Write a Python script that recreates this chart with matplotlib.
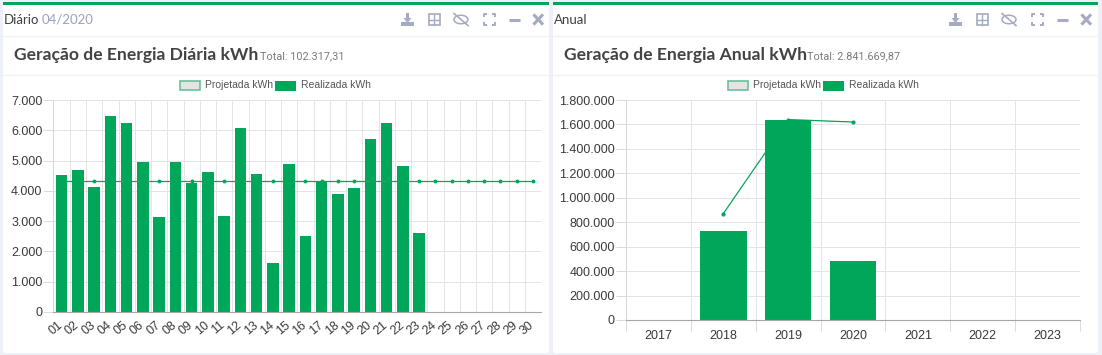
import matplotlib
matplotlib.use('Agg')
import matplotlib.pyplot as plt
from matplotlib.patches import Rectangle, FancyBboxPatch, Ellipse
from matplotlib.ticker import FuncFormatter

W, H = 1102, 355

# daily chart
dias = ['01','02','03','04','05','06','07','08','09','10','11','12','13','14','15',
        '16','17','18','19','20','21','22','23','24','25','26','27','28','29','30']
realizada_dia = [4530,4700,4120,6470,6240,4950,3150,4960,4260,4610,3180,6070,4570,1620,4880,
                 2500,4290,3880,4090,5700,6240,4820,2600]
projetada_dia = [4330]*30

# yearly chart
anos = ['2017','2018','2019','2020','2021','2022','2023']
realizada_ano = [0,725000,1635000,480000]
projetada_ano = [870000,1640000,1620000]
anos_proj = [1,2,3]

VERDE = '#00a65a'
GRID = '#e4e4e4'
FONT = ['Liberation Sans','DejaVu Sans']
HEAD = ['Lato','Noto Sans','DejaVu Sans']
ICON = '#a4abc2'

plt.rcParams['font.family'] = FONT

def fmt_br(v, pos=None):
	return '{:,.0f}'.format(v).replace(',', '.')

def px_axes(fig, x0, y0, x1, y1):
	return fig.add_axes([x0/W, 1-y1/H, (x1-x0)/W, (y1-y0)/H])

def draw_icons(bg, x):
	# toolbar glyphs, x is the left of the download icon
	y = 19.5
	# download
	bg.add_patch(Rectangle((x, y+2), 13, 4.5, color=ICON, lw=0))
	bg.add_patch(Rectangle((x+5, y-6.5), 3, 6, color=ICON, lw=0))
	bg.fill([x+2.5, x+10.5, x+6.5], [y-1.5, y-1.5, y+3.5], color=ICON, lw=0)
	# plus box
	bg.add_patch(Rectangle((x+27.5, y-5.5), 11, 11, fill=False, ec=ICON, lw=1.2))
	bg.plot([x+33, x+33], [y-5, y+5], color=ICON, lw=1)
	bg.plot([x+28, x+38], [y, y], color=ICON, lw=1)
	# eye with slash
	bg.add_patch(Ellipse((x+60, y), 14, 8.5, fill=False, ec=ICON, lw=1.1))
	bg.plot([x+53, x+67], [y-6, y+6], color=ICON, lw=1.2)
	# fullscreen corners
	fx, fy, s, c = x+82.5, y-5.5, 11, 3
	for (px, py, dx, dy) in [(fx,fy,1,1),(fx+s,fy,-1,1),(fx,fy+s,1,-1),(fx+s,fy+s,-1,-1)]:
		bg.plot([px+dx*c, px, px], [py, py, py+dy*c], color=ICON, lw=1.4, solid_capstyle='butt')
	# minimize
	bg.plot([x+108, x+119], [y, y], color=ICON, lw=2.2, solid_capstyle='butt')
	# close
	bg.plot([x+133.5, x+141], [y-4, y+4], color=ICON, lw=2.2)
	bg.plot([x+133.5, x+141], [y+4, y-4], color=ICON, lw=2.2)

def draw_panel(bg, x0, x1, head, head2, title, total, title_w):
	bg.add_patch(FancyBboxPatch((x0, 2), x1-x0, 351, boxstyle='round,pad=0,rounding_size=2',
		fc='white', ec='none'))
	bg.add_patch(Rectangle((x0, 2), x1-x0, 3, color=VERDE, lw=0))
	bg.plot([x0, x1], [36, 36], color='#f2f3f8', lw=1)
	bg.plot([x0, x1], [75, 75], color='#f2f3f8', lw=1)
	bg.text(x0+1, 19.5, head, fontsize=9.5, color='#3f4047', va='center', family=HEAD)
	if head2:
		bg.text(x0+38.5, 19.5, head2, fontsize=9.5, color='#9aa2bd', va='center', family=HEAD)
	bg.text(x0+10.5, 55, title, fontsize=12.6, color='#434343', va='center', weight='bold', family=HEAD)
	bg.text(x0+11+title_w, 56, total, fontsize=7.8, color='#7b7b7b', va='center', family=['Roboto','DejaVu Sans'])

def draw_legend(bg, x):
	y = 85.5
	bg.add_patch(Rectangle((x, y-4.5), 20, 9, fc='#e4e4e4', ec='#6dbf9b', lw=1.2))
	bg.text(x+25, y, 'Projetada kWh', fontsize=7.5, color='#555555', va='center', family=FONT)
	bg.add_patch(Rectangle((x+95, y-5), 21, 10, fc=VERDE, ec='none'))
	bg.text(x+121, y, 'Realizada kWh', fontsize=7.5, color='#555555', va='center', family=FONT)

def style_axes(ax, ticklen):
	ax.set_axisbelow(True)
	ax.grid(True, color=GRID, lw=0.72)
	for s in ['top','right']:
		ax.spines[s].set_visible(False)
	ax.spines['left'].set_color('#d6d6d6')
	ax.spines['left'].set_linewidth(0.72)
	ax.spines['bottom'].set_color('#a6a6a6')
	ax.tick_params(axis='y', colors='#3a3a3a', labelsize=9, color='#dcdcdc', length=7, width=0.72, pad=1)
	ax.tick_params(axis='x', color='#dcdcdc', length=ticklen, width=0.72)
	ax.yaxis.set_major_formatter(FuncFormatter(fmt_br))
	ax.patch.set_alpha(0)

fig = plt.figure(figsize=(W/100, H/100), dpi=100, facecolor='#edf0f6')
bg = fig.add_axes([0, 0, 1, 1])
bg.set_xlim(0, W)
bg.set_ylim(H, 0)
bg.axis('off')

draw_panel(bg, 3, 549, 'Diário', '04/2020', 'Geração de Energia Diária kWh', 'Total: 102.317,31', 246)
draw_panel(bg, 553, 1098, 'Anual', '', 'Geração de Energia Anual kWh', 'Total: 2.841.669,87', 243)
draw_icons(bg, 401)
draw_icons(bg, 949)
draw_legend(bg, 180)
draw_legend(bg, 728)

# left chart
ax1 = px_axes(fig, 53.5, 100, 541, 312)
x_d = list(range(len(dias)))
ax1.bar(x_d[:len(realizada_dia)], realizada_dia, width=0.72, color=VERDE, zorder=2)
ax1.plot(x_d, projetada_dia, color=VERDE, lw=0.9, marker='o', ms=1.8, zorder=3)
ax1.set_xlim(-0.5, 29.5)
ax1.set_ylim(0, 7000)
ax1.set_yticks(range(0, 8000, 1000))
ax1.set_xticks([i-0.5 for i in range(31)])
ax1.set_xticklabels(['']*31)
for i, d in enumerate(dias):
	ax1.annotate(d, (i, 0), xytext=(-4, -5), textcoords='offset points', xycoords=('data','axes fraction'),
		rotation=40, ha='center', va='top', fontsize=9, color='#3a3a3a', family=FONT)
style_axes(ax1, 0)

# right chart
ax2 = px_axes(fig, 626, 100, 1080, 320)
x_a = list(range(len(anos)))
ax2.bar(x_a[:len(realizada_ano)], realizada_ano, width=0.72, color=VERDE, zorder=2)
ax2.plot(anos_proj, projetada_ano, color=VERDE, lw=0.9, marker='o', ms=2, zorder=3)
ax2.set_xlim(-0.5, 6.5)
ax2.set_ylim(0, 1800000)
ax2.set_yticks(range(0, 2000000, 200000))
ax2.set_xticks([i-0.5 for i in range(8)])
ax2.set_xticklabels(['']*8)
for i, a in enumerate(anos):
	ax2.annotate(a, (i, 0), xytext=(0, -7.5), textcoords='offset points', xycoords=('data','axes fraction'),
		ha='center', va='top', fontsize=9, color='#3a3a3a', family=FONT)
style_axes(ax2, 8)

fig.savefig('out.png', dpi=100, facecolor=fig.get_facecolor())
